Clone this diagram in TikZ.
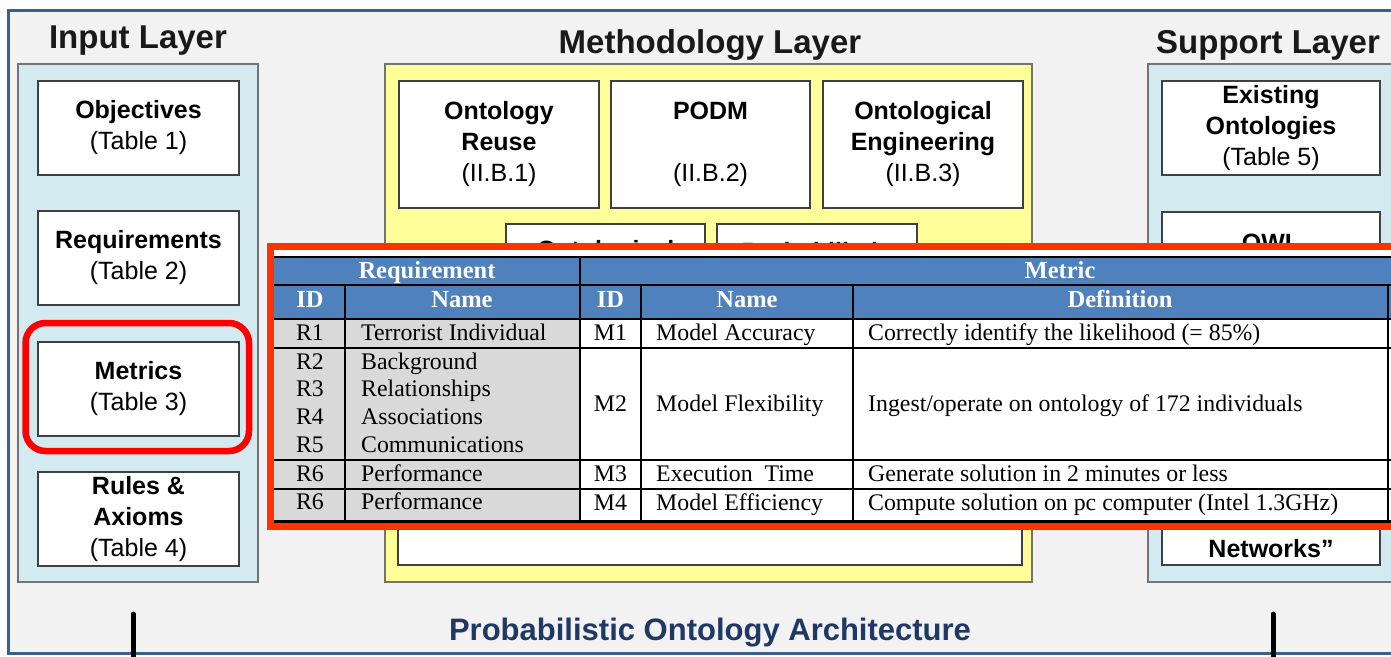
\documentclass[tikz,border=0pt]{standalone}
\usepackage{fontspec}
\setmainfont{Liberation Sans}
\newfontfamily\tabfont{Liberation Serif}
\usepackage{tikz}

\definecolor{frameblue}{HTML}{3A5F8F}
\definecolor{bggray}{HTML}{F2F2F2}
\definecolor{layerblue}{HTML}{D2EAF0}
\definecolor{layeryellow}{HTML}{FFFF99}
\definecolor{titlenavy}{HTML}{1F3864}
\definecolor{hilite}{HTML}{FF0000}
\definecolor{tabred}{HTML}{FF3300}
\definecolor{headblue}{HTML}{4F81BD}
\definecolor{reqgray}{HTML}{D9D9D9}

\begin{document}
\begin{tikzpicture}[x=1pt,y=1pt,yscale=-1,xscale=1,
  layer/.style={draw=black!55,line width=1.2pt},
  item/.style={draw=black!75,line width=1.2pt,fill=white,inner sep=0pt,align=center,
    font=\fontsize{25}{31}\selectfont},
  layertitle/.style={inner sep=0pt,text=black!90,font=\bfseries\fontsize{33}{38}\selectfont},
  cell/.style={inner sep=0pt,font=\tabfont\fontsize{23.8}{27}\selectfont},
  headcell/.style={inner sep=0pt,text=white,font=\tabfont\bfseries\fontsize{24.5}{27}\selectfont}]
\useasboundingbox (0,0) rectangle (1391,656);
\clip (0,0) rectangle (1391,656);

%Shape: Outer frame
\draw [frameblue,line width=3pt,fill=bggray] (8,10) rectangle (1430,653) ;

%Shape: Layer panels
\draw [layer,fill=layerblue] (18,64) rectangle (258,582) ;
\draw [layer,fill=layeryellow] (385,64) rectangle (1032,582) ;
\draw [layer,fill=layerblue] (1148,64) rectangle (1396,582) ;

% Text Node
\node [layertitle] (intitle) at (138,41) {Input Layer};
% Text Node
\node [layertitle] (mtitle) at (710,45) {Methodology Layer};
% Text Node
\node [layertitle] (stitle) at (1268,45) {Support Layer};

%Input layer boxes
\node [item,minimum width=201pt,minimum height=94pt] (obj) at (138.5,128) {\textbf{Objectives}\\(Table 1)};
\node [item,minimum width=201pt,minimum height=94pt] (req) at (138.5,258) {\textbf{Requirements}\\(Table 2)};
\node [item,minimum width=201pt,minimum height=94pt] (met) at (138.5,389) {\textbf{Metrics}\\(Table 3)};
\node [item,minimum width=201pt,minimum height=94pt] (rul) at (138.5,519) {\textbf{Rules \&}\\\textbf{Axioms}\\(Table 4)};

%Highlight round Metrics
\draw [hilite,line width=6.5pt,rounded corners=20pt] (25.5,323) rectangle (249,451) ;

%Methodology layer boxes
\node [item,minimum width=200pt,minimum height=127pt] (reuse) at (499,144.5) {\textbf{Ontology}\\\textbf{Reuse}\\(II.B.1)};
\node [item,minimum width=199pt,minimum height=127pt] (podm) at (710.5,144.5) {\textbf{PODM}\\ \\(II.B.2)};
\node [item,minimum width=200pt,minimum height=127pt] (eng) at (923,144.5) {\textbf{Ontological}\\\textbf{Engineering}\\(II.B.3)};
\draw [draw=black!75,line width=1.2pt,fill=white] (506,224) rectangle (705,318) ;
\draw [draw=black!75,line width=1.2pt,fill=white] (717,224) rectangle (917,318) ;
\node [inner sep=0pt,font=\bfseries\fontsize{25}{31}\selectfont] (ontol) at (605.5,252) {Ontological};
\node [inner sep=0pt,font=\bfseries\fontsize{25}{31}\selectfont] (proba) at (817,252) {Probabilistic};
\draw [draw=black!75,line width=1.2pt,fill=white] (398,340) rectangle (1022,565) ;

%Support layer boxes
\node [item,minimum width=218pt,minimum height=94pt] (exist) at (1271,128) {\textbf{Existing}\\\textbf{Ontologies}\\(Table 5)};
\draw [draw=black!75,line width=1.2pt,fill=white] (1162,212) rectangle (1380,306) ;
\node [inner sep=0pt,font=\bfseries\fontsize{25}{31}\selectfont] (owl) at (1271,243) {OWL};
\draw [draw=black!75,line width=1.2pt,fill=white] (1162,471) rectangle (1380,565) ;
\node [inner sep=0pt,font=\bfseries\fontsize{25}{31}\selectfont] (netw) at (1271,549) {Networks”};

% Text Node
\node [inner sep=0pt,text=titlenavy,font=\bfseries\fontsize{31}{36}\selectfont] (arch) at (710,633) {Probabilistic Ontology Architecture};

%Straight Lines
\draw [line width=5pt,line cap=round] (133,614) -- (133,670) ;
\draw [line width=5pt,line cap=round] (1273,614) -- (1273,670) ;

%Table overlay
\draw [tabred,line width=7pt,fill=white] (270,246.5) rectangle (1440,526.5) ;
\fill [headblue] (273.5,257) rectangle (1436,319) ;
\fill [reqgray] (273.5,319) rectangle (580,521) ;
\draw [line width=2.6pt] (273.5,257) -- (1436,257) ;
\draw [line width=2.6pt] (273.5,285) -- (1436,285) ;
\draw [line width=2.6pt] (273.5,319) -- (1436,319) ;
\draw [line width=2.6pt] (273.5,348) -- (1436,348) ;
\draw [line width=2.6pt] (273.5,460) -- (1436,460) ;
\draw [line width=2.6pt] (273.5,489) -- (1436,489) ;
\draw [line width=2.6pt] (273.5,521.5) -- (1436,521.5) ;
\draw [line width=2.6pt] (345,285) -- (345,521.5) ;
\draw [line width=2.6pt] (580,257) -- (580,521.5) ;
\draw [line width=2.6pt] (641,285) -- (641,521.5) ;
\draw [line width=2.6pt] (853,285) -- (853,521.5) ;
\draw [line width=2.6pt] (1388,285) -- (1388,521.5) ;

% Table headers
\node [headcell,anchor=base] (hreq) at (427,278) {Requirement};
\node [headcell,anchor=base] (hmet) at (1060,278) {Metric};
\node [headcell,anchor=base] (hrid) at (310,307) {ID};
\node [headcell,anchor=base] (hrname) at (462,307) {Name};
\node [headcell,anchor=base] (hmid) at (610.5,307) {ID};
\node [headcell,anchor=base] (hmname) at (747,307) {Name};
\node [headcell,anchor=base] (hdef) at (1120,307) {Definition};

% Table rows
\node [cell,anchor=base] (ra) at (310,340) {R1};
\node [cell,anchor=base west] (rna) at (361,340) {Terrorist Individual};
\node [cell,anchor=base] (ma) at (610.5,340) {M1};
\node [cell,anchor=base west] (mna) at (656,340) {Model Accuracy};
\node [cell,anchor=base west] (mda) at (868,340) {Correctly identify the likelihood (= 85\%)};

\node [cell,anchor=base] (rb) at (310,369) {R2};
\node [cell,anchor=base] (rc) at (310,396) {R3};
\node [cell,anchor=base] (rd) at (310,424) {R4};
\node [cell,anchor=base] (re) at (310,452) {R5};
\node [cell,anchor=base west] (rnb) at (361,369) {Background};
\node [cell,anchor=base west] (rnc) at (361,396) {Relationships};
\node [cell,anchor=base west] (rnd) at (361,424) {Associations};
\node [cell,anchor=base west] (rne) at (361,452) {Communications};
\node [cell,anchor=base] (mb) at (610.5,411) {M2};
\node [cell,anchor=base west] (mnb) at (656,411) {Model Flexibility};
\node [cell,anchor=base west] (mdb) at (868,411) {Ingest/operate on ontology of 172 individuals};

\node [cell,anchor=base] (rf) at (310,481) {R6};
\node [cell,anchor=base west] (rnf) at (361,481) {Performance};
\node [cell,anchor=base] (mc) at (610.5,481) {M3};
\node [cell,anchor=base west] (mnc) at (656,481) {Execution\ \ Time};
\node [cell,anchor=base west] (mdc) at (868,481) {Generate solution in 2 minutes or less};

\node [cell,anchor=base] (rg) at (310,509) {R6};
\node [cell,anchor=base west] (rng) at (361,509) {Performance};
\node [cell,anchor=base] (md) at (610.5,510) {M4};
\node [cell,anchor=base west] (mnd) at (656,510) {Model Efficiency};
\node [cell,anchor=base west] (mdd) at (868,510) {Compute solution on pc computer (Intel 1.3GHz)};

\end{tikzpicture}
\end{document}
